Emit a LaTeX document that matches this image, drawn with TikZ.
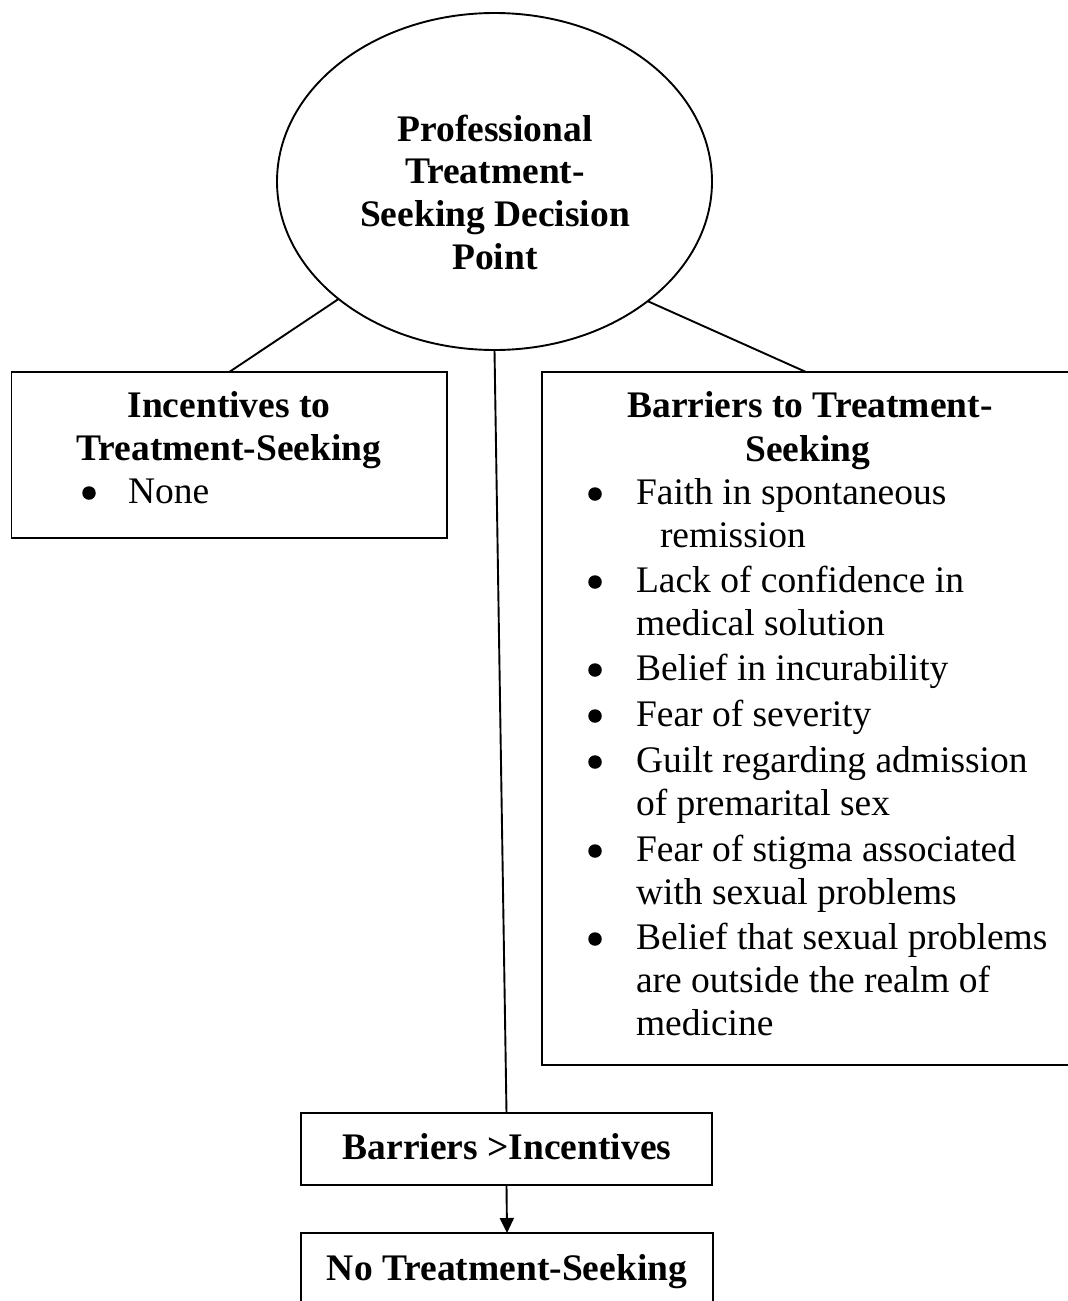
\documentclass[tikz,border=0pt]{standalone}
\usepackage{fontspec}
\setmainfont{Liberation Serif}
\usetikzlibrary{shapes.geometric,arrows.meta}
\begin{document}
\begin{tikzpicture}[x=1pt,y=-1pt,
  every node/.style={inner sep=0pt, outer sep=0pt},
  txt/.style={font=\fontsize{37.5}{43}\selectfont, anchor=base west},
  ctr/.style={font=\fontsize{37.5}{43}\selectfont\bfseries, anchor=base},
  bul/.style={circle, fill=black, minimum size=13.5pt},
  boxsty/.style={draw, line width=1.9pt, rectangle, anchor=north west},
  conn/.style={line width=1.9pt},
]
\clip (0,0) rectangle (1068,1301);
\fill[white] (0,0) rectangle (1068,1301);

% decision point
\node[draw, ellipse, line width=1.9pt, minimum width=435pt, minimum height=337pt] (dp) at (494.5,181.5) {};
\node[ctr] (d1) at (495,141) {Professional};
\node[ctr] (d2) at (495,183) {Treatment-};
\node[ctr] (d3) at (495,226) {Seeking Decision};
\node[ctr] (d4) at (495,269) {Point};

% incentives box
\node[boxsty, minimum width=435.5pt, minimum height=166pt] (inc) at (11.5,372) {};
\node[ctr] (i1) at (229,417) {Incentives to};
\node[ctr] (i2) at (229,460) {Treatment-Seeking};
\node[bul] (ib) at (89,493) {};
\node[txt] (i3) at (128,503) {None};

% barriers box
\node[boxsty, minimum width=528pt, minimum height=693pt] (bar) at (542,372) {};
\node[ctr] (b1) at (810,417) {Barriers to Treatment-};
\node[ctr] (b2) at (808,461) {Seeking};
\node[bul] (bb1) at (595,494) {};
\node[txt] (l1) at (636,504) {Faith in spontaneous};
\node[txt] (l2) at (660,547) {remission};
\node[bul] (bb2) at (595,582) {};
\node[txt] (l3) at (636,592) {Lack of confidence in};
\node[txt] (l4) at (636,635) {medical solution};
\node[bul] (bb3) at (595,670) {};
\node[txt] (l5) at (636,680) {Belief in incurability};
\node[bul] (bb4) at (595,716) {};
\node[txt] (l6) at (636,726) {Fear of severity};
\node[bul] (bb5) at (595,762) {};
\node[txt] (l7) at (636,772) {Guilt regarding admission};
\node[txt] (l8) at (636,815) {of premarital sex};
\node[bul] (bb6) at (595,851) {};
\node[txt] (l9) at (636,861) {Fear of stigma associated};
\node[txt] (l10) at (636,904) {with sexual problems};
\node[bul] (bb7) at (595,939) {};
\node[txt] (l11) at (636,949) {Belief that sexual problems};
\node[txt] (l12) at (636,992) {are outside the realm of};
\node[txt] (l13) at (636,1035) {medicine};

% outcome boxes
\node[boxsty, minimum width=411pt, minimum height=72pt] (bi) at (301,1113) {};
\node[ctr] (bit) at (507,1159) {Barriers >Incentives};
\node[boxsty, minimum width=412pt, minimum height=100pt] (nt) at (301,1233) {};
\node[ctr] (ntt) at (507,1280) {No Treatment-Seeking};

% connectors
\draw[conn] (dp.217.5) -- (inc.north);
\draw[conn] (dp.322.3) -- (bar.north);
\draw[conn] (dp.south) -- (bi.north);
\draw[conn, -{Triangle[length=15pt,width=14pt]}] (bi.south) -- (nt.north);
\end{tikzpicture}
\end{document}
